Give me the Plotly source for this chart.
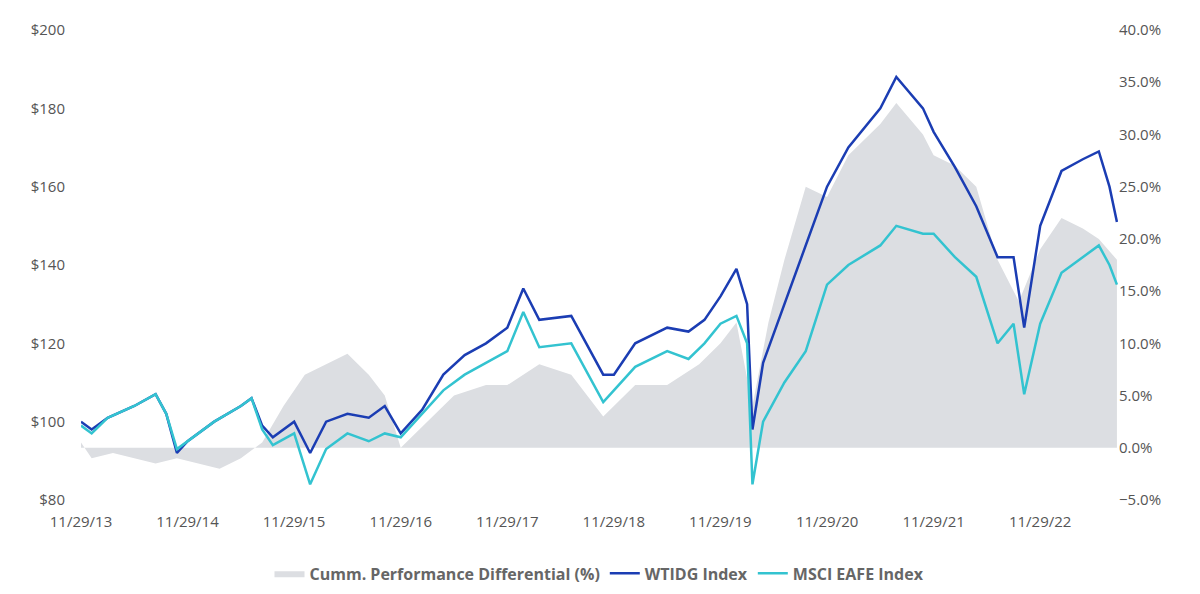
import pandas as pd
import plotly.graph_objects as go

# years since 11/29/13
idx_t = [0, 0.1, 0.25, 0.5, 0.7, 0.8, 0.9, 1.0, 1.25, 1.5, 1.6, 1.7, 1.8, 2.0, 2.15, 2.3, 2.5, 2.7, 2.85, 3.0,
         3.2, 3.4, 3.6, 3.8, 4.0, 4.15, 4.3, 4.6, 4.9, 5.0, 5.2, 5.5, 5.7, 5.85, 6.0, 6.15, 6.25, 6.3,
         6.4, 6.6, 6.8, 7.0, 7.2, 7.5, 7.65, 7.9, 8.0, 8.2, 8.4, 8.6, 8.75, 8.85, 9.0, 9.2, 9.4,
         9.55, 9.65, 9.72]
wtidg = [100, 98, 101, 104, 107, 102, 92, 95, 100, 104, 106, 99, 96, 100, 92, 100, 102, 101, 104, 97,
         103, 112, 117, 120, 124, 134, 126, 127, 112, 112, 120, 124, 123, 126, 132, 139, 130, 98,
         115, 130, 145, 160, 170, 180, 188, 180, 174, 165, 155, 142, 142, 124, 150, 164, 167,
         169, 160, 151]
msci = [99, 97, 101, 104, 107, 102, 93, 95, 100, 104, 106, 98, 94, 97, 84, 93, 97, 95, 97, 96,
        102, 108, 112, 115, 118, 128, 119, 120, 105, 108, 114, 118, 116, 120, 125, 127, 120, 84,
        100, 110, 118, 135, 140, 145, 150, 148, 148, 142, 137, 120, 125, 107, 125, 138, 142,
        145, 140, 135]

diff_t = [0, 0.1, 0.3, 0.5, 0.7, 0.9, 1.1, 1.3, 1.5, 1.7, 1.9, 2.1, 2.3, 2.5, 2.7, 2.85, 3.0,
          3.2, 3.5, 3.8, 4.0, 4.3, 4.6, 4.9, 5.2, 5.5, 5.8, 6.0, 6.15, 6.3, 6.45, 6.6, 6.8, 7.0,
          7.2, 7.5, 7.65, 7.9, 8.0, 8.2, 8.4, 8.6, 8.8, 9.0, 9.2, 9.4, 9.55, 9.72]
diff = [0.5, -1, -0.5, -1, -1.5, -1, -1.5, -2, -1, 0.5, 4, 7, 8, 9, 7, 5, 0,
        2, 5, 6, 6, 8, 7, 3, 6, 6, 8, 10, 12, 4, 12, 18, 25, 24,
        28, 31, 33, 30, 28, 27, 25, 18, 14, 19, 22, 21, 20, 18]

start = pd.Timestamp("2013-11-29")
to_date = lambda ts: [start + pd.Timedelta(days=t * 365.25) for t in ts]
tick_dates = [pd.Timestamp(f"{y}-11-29") for y in range(2013, 2023)]

fig = go.Figure()
# gray area on the primary (right, %) axis so the lines draw over it
fig.add_trace(go.Scatter(x=to_date(diff_t), y=diff, yaxis="y", mode="lines", fill="tozeroy",
                         line=dict(width=0, color="#dcdee2"), fillcolor="#dcdee2",
                         name="Cumm. Performance Differential (%)"))
fig.add_trace(go.Scatter(x=to_date(idx_t), y=wtidg, yaxis="y2", mode="lines",
                         line=dict(color="#1b3db3", width=2.5), name="WTIDG Index"))
fig.add_trace(go.Scatter(x=to_date(idx_t), y=msci, yaxis="y2", mode="lines",
                         line=dict(color="#33c3d0", width=2.5), name="MSCI EAFE Index"))

fig.update_layout(
    width=1200, height=594, plot_bgcolor="white", paper_bgcolor="white",
    margin=dict(l=73, r=90, t=22, b=102),
    font=dict(family="Open Sans", size=15, color="#555"),
    xaxis=dict(range=[start, start + pd.Timedelta(days=9.73 * 365.25)], tickvals=tick_dates,
               tickformat="%m/%d/%y", showgrid=False, zeroline=False, showline=False,
               ticks="outside", ticklen=8, tickcolor="white"),
    yaxis=dict(range=[-5, 40], dtick=5, ticksuffix="%", tickformat=".1f", side="right",
               showgrid=False, zeroline=False),
    yaxis2=dict(range=[80, 200], dtick=20, tickprefix="$", overlaying="y", side="left",
                showgrid=False, zeroline=False, ticks="outside", ticklen=12, tickcolor="white"),
    legend=dict(orientation="h", x=0.5, xanchor="center", y=-0.12, yanchor="top",
                traceorder="normal", font=dict(size=16, color="#666", weight="bold")),
)
fig.write_html("out.html")
